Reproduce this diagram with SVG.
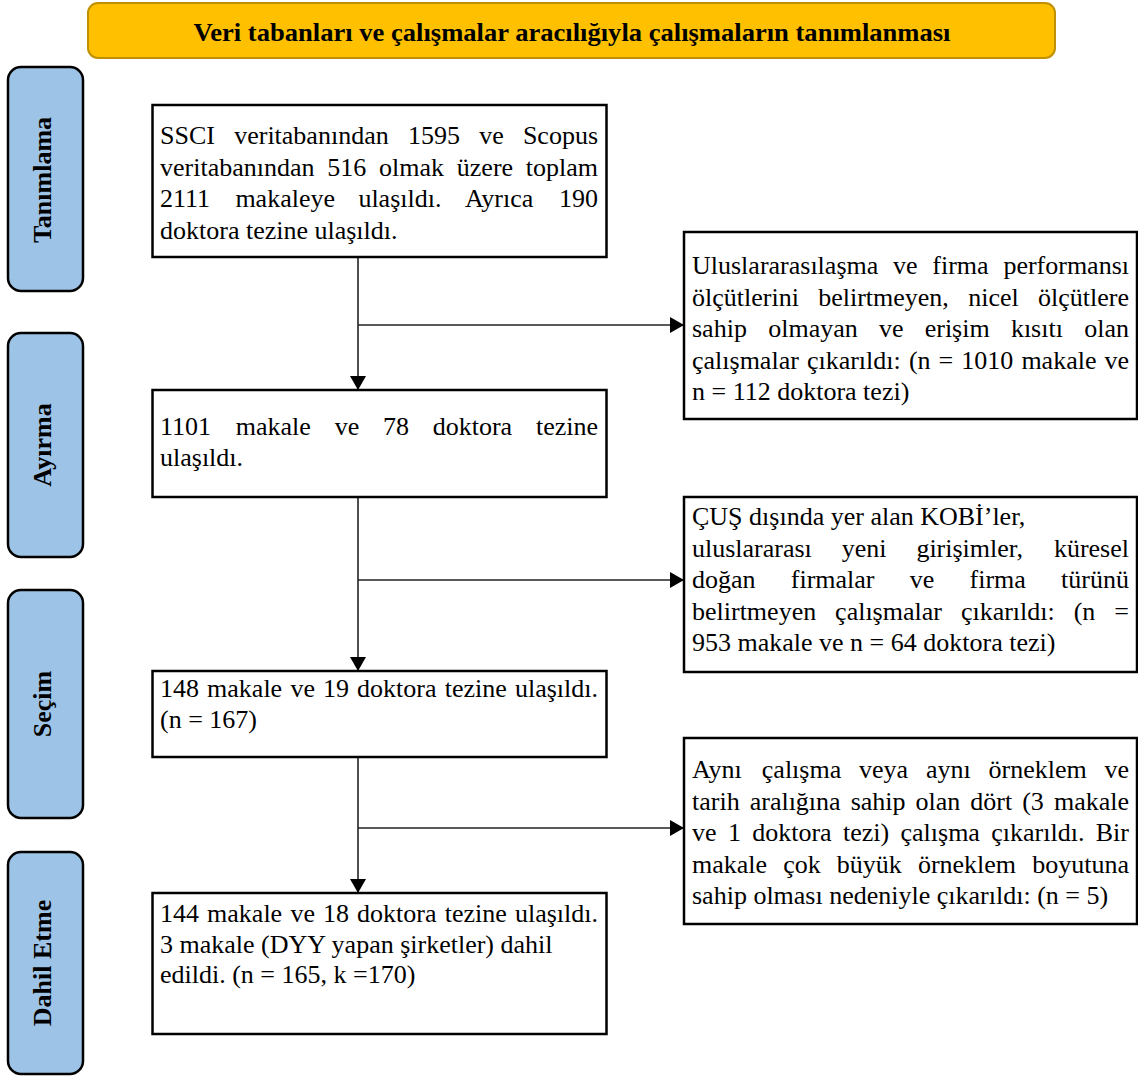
<svg xmlns="http://www.w3.org/2000/svg" width="1138" height="1077" viewBox="0 0 1138 1077">
<defs>
<style>
.box{fill:#fff;stroke:#000;stroke-width:2.5}
.side{fill:#9DC3E6;stroke:#000;stroke-width:2.5}
.t{font-family:"Liberation Serif","Times New Roman",serif;font-size:26px;fill:#000}
.sl{font-family:"Liberation Serif","Times New Roman",serif;font-size:26px;font-weight:bold;fill:#000;text-anchor:middle}
.e{text-anchor:end}
.c{fill:none;stroke:#222;stroke-width:1.6}
</style>
<marker id="ah" markerUnits="userSpaceOnUse" markerWidth="16" markerHeight="16" viewBox="0 0 14 16" refX="14" refY="8" orient="auto">
<path d="M0,0 L14,8 L0,16 Z" fill="#000"/>
</marker>
</defs>
<rect width="1138" height="1077" fill="#fff"/>

<g id="header">
<rect x="88" y="3" width="967" height="55" rx="10" fill="#FFC000" stroke="#BF9000" stroke-width="2"/>
<text x="572" y="41" font-family="Liberation Serif, Times New Roman, serif" font-size="26" font-weight="bold" text-anchor="middle" textLength="757" lengthAdjust="spacingAndGlyphs">Veri tabanları ve çalışmalar aracılığıyla çalışmaların tanımlanması</text>
</g>

<g id="side-tanimlama">
<rect class="side" x="8" y="67" width="75" height="224" rx="13"/>
<text class="sl" transform="translate(51,180) rotate(-90)">Tanımlama</text>
</g>
<g id="side-ayirma">
<rect class="side" x="8" y="333" width="75" height="224" rx="13"/>
<text class="sl" transform="translate(51,445) rotate(-90)">Ayırma</text>
</g>
<g id="side-secim">
<rect class="side" x="8" y="590" width="75" height="228" rx="13"/>
<text class="sl" transform="translate(51,704) rotate(-90)">Seçim</text>
</g>
<g id="side-dahil">
<rect class="side" x="8" y="852" width="75" height="222" rx="13"/>
<text class="sl" transform="translate(51,963) rotate(-90)">Dahil Etme</text>
</g>

<g id="connectors">
<path class="c" d="M358,257 V390" marker-end="url(#ah)"/>
<path class="c" d="M358,325 H684" marker-end="url(#ah)"/>
<path class="c" d="M358,497 V671" marker-end="url(#ah)"/>
<path class="c" d="M358,580 H684" marker-end="url(#ah)"/>
<path class="c" d="M358,757 V893" marker-end="url(#ah)"/>
<path class="c" d="M358,828 H684" marker-end="url(#ah)"/>
</g>

<g id="box1">
<rect class="box" x="152.5" y="105" width="454" height="152"/>
<text class="t" y="144"><tspan x="160">SSCI</tspan><tspan x="234.2">veritabanından</tspan><tspan x="407.9">1595</tspan><tspan x="479.2">ve</tspan><tspan x="598" class="e">Scopus</tspan></text>
<text class="t" y="175.5"><tspan x="160">veritabanından</tspan><tspan x="327.3">516</tspan><tspan x="379">olmak</tspan><tspan x="456.8">üzere</tspan><tspan x="598" class="e">toplam</tspan></text>
<text class="t" y="207"><tspan x="160">2111</tspan><tspan x="235.4">makaleye</tspan><tspan x="358.4">ulaşıldı.</tspan><tspan x="464.9">Ayrıca</tspan><tspan x="598" class="e">190</tspan></text>
<text class="t" x="160" y="238.5">doktora tezine ulaşıldı.</text>
</g>

<g id="box2">
<rect class="box" x="152.5" y="390" width="454" height="107"/>
<text class="t" y="435"><tspan x="160">1101</tspan><tspan x="235.8">makale</tspan><tspan x="334.7">ve</tspan><tspan x="382.9">78</tspan><tspan x="432.7">doktora</tspan><tspan x="598" class="e">tezine</tspan></text>
<text class="t" x="160" y="466">ulaşıldı.</text>
</g>

<g id="box3">
<rect class="box" x="152.5" y="671" width="454" height="86"/>
<text class="t" y="697"><tspan x="160">148</tspan><tspan x="207.1">makale</tspan><tspan x="290.4">ve</tspan><tspan x="323">19</tspan><tspan x="357.1">doktora</tspan><tspan x="444.7">tezine</tspan><tspan x="598" class="e">ulaşıldı.</tspan></text>
<text class="t" x="160" y="728">(n = 167)</text>
</g>

<g id="box4">
<rect class="box" x="152.5" y="893" width="454" height="141"/>
<text class="t" y="922"><tspan x="160">144</tspan><tspan x="207.1">makale</tspan><tspan x="290.4">ve</tspan><tspan x="323">18</tspan><tspan x="357.1">doktora</tspan><tspan x="444.7">tezine</tspan><tspan x="598" class="e">ulaşıldı.</tspan></text>
<text class="t" x="160" y="952.5">3 makale (DYY yapan şirketler) dahil</text>
<text class="t" x="160" y="983">edildi. (n = 165, k =170)</text>
</g>

<g id="excl1">
<rect class="box" x="684" y="232" width="453" height="187"/>
<text class="t" y="274"><tspan x="692">Uluslararasılaşma</tspan><tspan x="893.1">ve</tspan><tspan x="932.3">firma</tspan><tspan x="1129" class="e">performansı</tspan></text>
<text class="t" y="305.5"><tspan x="692">ölçütlerini</tspan><tspan x="818.2">belirtmeyen,</tspan><tspan x="968.2">nicel</tspan><tspan x="1129" class="e">ölçütlere</tspan></text>
<text class="t" y="337"><tspan x="692">sahip</tspan><tspan x="768.2">olmayan</tspan><tspan x="878.9">ve</tspan><tspan x="924.7">erişim</tspan><tspan x="1010.9">kısıtı</tspan><tspan x="1129" class="e">olan</tspan></text>
<text class="t" y="368.5"><tspan x="692">çalışmalar</tspan><tspan x="806.9">çıkarıldı:</tspan><tspan x="908.9">(n</tspan><tspan x="938.6">=</tspan><tspan x="961.3">1010</tspan><tspan x="1021.4">makale</tspan><tspan x="1129" class="e">ve</tspan></text>
<text class="t" x="692" y="400">n = 112 doktora tezi)</text>
</g>

<g id="excl2">
<rect class="box" x="684" y="497" width="453" height="175"/>
<text class="t" x="692" y="525">ÇUŞ dışında yer alan KOBİ’ler,</text>
<text class="t" y="556.5"><tspan x="692">uluslararası</tspan><tspan x="841.8">yeni</tspan><tspan x="916.4">girişimler,</tspan><tspan x="1129" class="e">küresel</tspan></text>
<text class="t" y="588"><tspan x="692">doğan</tspan><tspan x="790.8">firmalar</tspan><tspan x="909.8">ve</tspan><tspan x="969.5">firma</tspan><tspan x="1129" class="e">türünü</tspan></text>
<text class="t" y="619.5"><tspan x="692">belirtmeyen</tspan><tspan x="835.1">çalışmalar</tspan><tspan x="960.9">çıkarıldı:</tspan><tspan x="1073.7">(n</tspan><tspan x="1129" class="e">=</tspan></text>
<text class="t" x="692" y="651">953 makale ve n = 64 doktora tezi)</text>
</g>

<g id="excl3">
<rect class="box" x="684" y="738" width="453" height="186"/>
<text class="t" y="778"><tspan x="692">Aynı</tspan><tspan x="761.8">çalışma</tspan><tspan x="859">veya</tspan><tspan x="925.9">aynı</tspan><tspan x="988.5">örneklem</tspan><tspan x="1129" class="e">ve</tspan></text>
<text class="t" y="809.5"><tspan x="692">tarih</tspan><tspan x="749.7">aralığına</tspan><tspan x="850.7">sahip</tspan><tspan x="915.5">olan</tspan><tspan x="970.3">dört</tspan><tspan x="1022.2">(3</tspan><tspan x="1129" class="e">makale</tspan></text>
<text class="t" y="841"><tspan x="692">ve</tspan><tspan x="727.9">1</tspan><tspan x="752.2">doktora</tspan><tspan x="843">tezi)</tspan><tspan x="900.5">çalışma</tspan><tspan x="991.3">çıkarıldı.</tspan><tspan x="1129" class="e">Bir</tspan></text>
<text class="t" y="872.5"><tspan x="692">makale</tspan><tspan x="783.2">çok</tspan><tspan x="836.8">büyük</tspan><tspan x="917.9">örneklem</tspan><tspan x="1129" class="e">boyutuna</tspan></text>
<text class="t" x="692" y="904">sahip olması nedeniyle çıkarıldı: (n = 5)</text>
</g>
</svg>
